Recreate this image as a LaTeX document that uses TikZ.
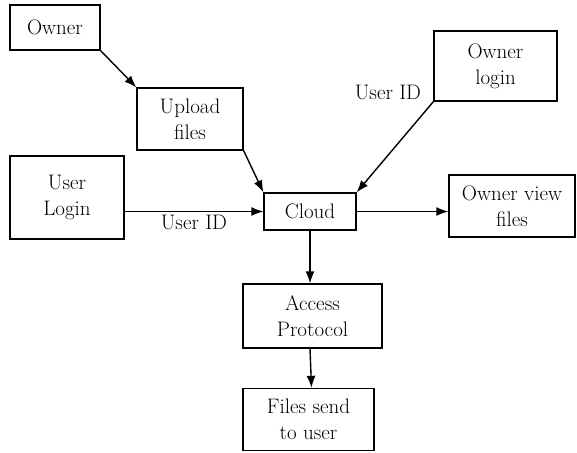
\documentclass[tikz,border=0pt]{standalone}
\usetikzlibrary{arrows.meta}
\begin{document}
\begin{tikzpicture}[x=1pt,y=-1pt,
    box/.style={draw, line width=1.3pt, align=center, inner sep=2pt, font=\fontsize{21}{26}\selectfont},
    lbl/.style={font=\fontsize{21}{24}\selectfont, inner sep=1pt},
    flow/.style={-{Latex[length=12pt,width=9pt]}, line width=1.4pt}]
        \useasboundingbox (0,0) rectangle (577,452);
        \node[box, minimum width=90pt, minimum height=45pt] (owner) at (55,27.5) {Owner};
        \node[box, minimum width=106pt, minimum height=62pt] (upload) at (190,119) {Upload\\files};
        \node[box, minimum width=114pt, minimum height=83pt] (userlogin) at (67,197.5) {User\\Login};
        \node[box, minimum width=92pt, minimum height=37pt] (cloud) at (310,211.5) {Cloud};
        \node[box, minimum width=123pt, minimum height=70pt] (ownerlogin) at (495.5,66) {Owner\\login};
        \node[box, minimum width=126pt, minimum height=62pt] (ownerview) at (512,206) {Owner view\\files};
        \node[box, minimum width=139pt, minimum height=64pt] (access) at (312.5,316) {Access\\Protocol};
        \node[box, minimum width=131pt, minimum height=62pt] (filessend) at (308.5,419.5) {Files send\\to user};
        \node[lbl] (ownerid) at (388,92) {User ID};
        \draw[flow] (owner.south east) -- (upload.north west);
        \draw[flow] (upload.south east) -- (cloud.north west);
        \draw[flow] (userlogin.east |- cloud.west) -- (cloud.west) node[lbl, midway, below=2pt] (userid) {User ID};
        \draw[flow] (ownerlogin.south west) -- (cloud.north east);
        \draw[flow] (cloud.east) -- (cloud.east -| ownerview.west);
        \draw[flow] (cloud.south) -- (cloud.south |- access.north);
        \draw[flow] (access.south -| cloud.south) -- ([xshift=1.5pt]cloud.south |- filessend.north);
\end{tikzpicture}
\end{document}
